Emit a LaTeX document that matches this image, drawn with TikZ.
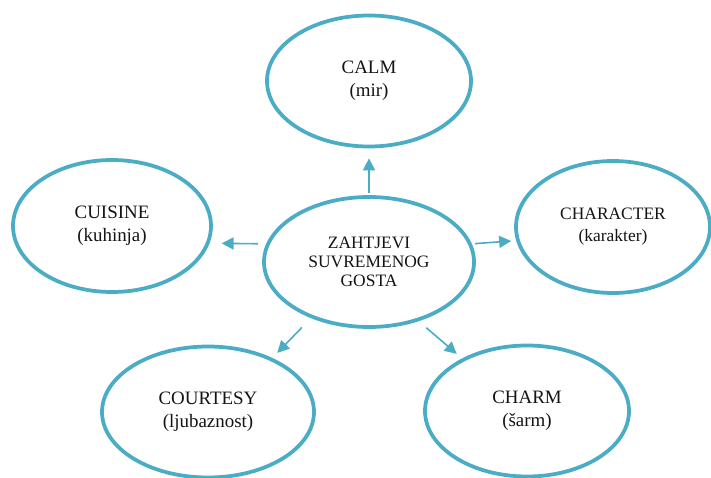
\documentclass[tikz,border=0pt]{standalone}
\usepackage{fontspec}
\setmainfont{Liberation Serif}
\newfontfamily\tnr{Liberation Serif}
\usetikzlibrary{shapes.geometric,arrows.meta}
\definecolor{ringblue}{RGB}{75,172,198}
\definecolor{txtgray}{RGB}{20,20,20}
\tikzset{
  ring/.style={ellipse, draw=ringblue, line width=3.75bp, fill=white, inner sep=0pt,
    align=center, text=txtgray, font=\tnr\fontsize{19}{23}\selectfont},
  hub/.style={ring, font=\tnr\fontsize{17.5}{19}\selectfont},
  arr/.style={draw=ringblue, line width=1.6bp, -{Triangle[length=12bp,width=12bp]}}
}
\begin{document}
\begin{tikzpicture}[x=1bp,y=-1bp]
\useasboundingbox (0,0) rectangle (711,478);
\node[hub, minimum width=210bp, minimum height=130bp] (ctr) at (369,262) {ZAHTJEVI\\SUVREMENOG\\GOSTA};
\node[ring, minimum width=204bp, minimum height=131bp] (calm) at (369,81) {CALM\\(mir)};
\node[ring, minimum width=198bp, minimum height=132bp] (cuisine) at (112,226) {CUISINE\\(kuhinja)};
\node[ring, minimum width=194bp, minimum height=132bp, font=\tnr\fontsize{17.5}{22}\selectfont] (character) at (613,227) {CHARACTER\\(karakter)};
\node[ring, minimum width=212bp, minimum height=131bp] (courtesy) at (208,412) {COURTESY\\(ljubaznost)};
\node[ring, minimum width=204bp, minimum height=131bp] (charm) at (527,411) {CHARM\\(šarm)};
\draw[arr, shorten <=2bp, shorten >=10bp] (ctr.north) -- (calm.south);
\draw[arr, shorten <=8bp, shorten >=12bp] (ctr.170) -- (cuisine.-10);
\draw[arr, shorten <=3bp, shorten >=5bp] (ctr.10) -- (character.188);
\draw[arr, shorten <=13bp, shorten >=7bp] (ctr.224.5) -- (courtesy.40);
\draw[arr, shorten <=10bp, shorten >=7bp] (ctr.-50) -- (charm.141);
\end{tikzpicture}
\end{document}
